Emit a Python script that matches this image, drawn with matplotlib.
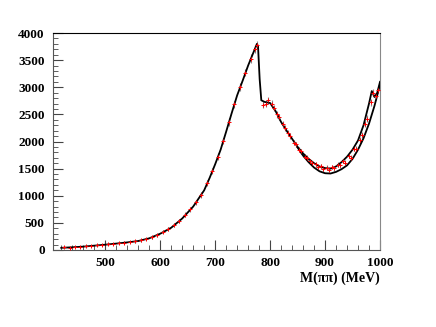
import matplotlib
matplotlib.use("Agg")
import matplotlib.pyplot as plt
from matplotlib.ticker import MultipleLocator

# fit curve (upper), MeV vs events
fit_m = [420, 440, 460, 480, 500, 520, 540, 560, 580, 600, 620, 640, 660, 680, 690, 700,
         710, 720, 730, 740, 750, 760, 770, 776, 778, 781, 784, 790, 800, 810, 820,
         830, 840, 850, 860, 870, 880, 890, 900, 910, 920, 930, 940, 950, 960, 970,
         980, 985, 990, 995, 1000]
fit_n = [40, 50, 62, 80, 98, 118, 140, 165, 215, 300, 410, 580, 800, 1100, 1330, 1580,
         1850, 2180, 2520, 2850, 3120, 3400, 3650, 3800, 3760, 3150, 2760, 2730, 2710, 2560, 2360,
         2200, 2050, 1900, 1780, 1680, 1600, 1540, 1510, 1500, 1540, 1620, 1720, 1850, 2020, 2300,
         2700, 2930, 2820, 2900, 3100]

# second model (lower branch above 850 MeV)
low_m = [850, 860, 870, 880, 890, 900, 910, 920, 930, 940, 950, 960, 970, 980, 990, 1000]
low_n = [1890, 1740, 1620, 1520, 1450, 1415, 1410, 1440, 1490, 1560, 1680, 1850, 2060, 2330, 2660, 3050]

# data points
dat_m = [425, 435, 445, 455, 465, 475, 485, 495, 505, 515, 525, 535, 545, 555, 565,
         575, 585, 595, 605, 615, 625, 635, 645, 655, 665, 675, 685, 695, 705, 715,
         725, 735, 745, 755, 765, 772, 777, 787, 793, 797, 803, 807, 813, 817, 823,
         827, 833, 837, 843, 847, 853, 857, 863, 867, 873, 877, 883, 887, 893, 897,
         903, 907, 913, 917, 923, 927, 933, 937, 943, 947, 953, 957, 963, 967, 973,
         977, 983, 987, 993, 997]
dat_n = [50, 45, 62, 58, 72, 70, 85, 95, 110, 105, 125, 138, 150, 160, 180,
         200, 235, 270, 340, 380, 460, 540, 650, 750, 880, 1010, 1230, 1450, 1720, 2010,
         2360, 2690, 3000, 3270, 3530, 3700, 3780, 2680, 2700, 2760, 2700, 2620, 2500, 2450, 2330,
         2250, 2150, 2100, 1980, 1950, 1850, 1820, 1720, 1700, 1640, 1600, 1580, 1530, 1540, 1490,
         1520, 1480, 1530, 1510, 1570, 1560, 1640, 1610, 1740, 1700, 1870, 1860, 2020, 2120, 2320,
         2420, 2720, 2900, 2830, 2950]
dat_e = [15, 15, 15, 15, 18, 18, 18, 20, 20, 20, 22, 22, 22, 25, 25,
         25, 28, 30, 35, 35, 40, 40, 45, 45, 50, 50, 55, 55, 60, 60,
         65, 65, 70, 70, 75, 75, 75, 70, 70, 65, 65, 60, 60, 60, 55,
         55, 55, 55, 50, 50, 50, 50, 50, 50, 45, 45, 45, 45, 45, 45,
         45, 45, 45, 45, 45, 45, 45, 45, 50, 50, 50, 50, 55, 55, 55,
         60, 60, 60, 60, 60]

plt.rcParams['font.family'] = ['Liberation Serif', 'DejaVu Serif']
plt.rcParams['font.weight'] = 'bold'

fig = plt.figure(figsize=(4.36, 3.27), dpi=100)
ax = fig.add_axes([0.1216, 0.2355, 0.75, 0.6635])

ax.errorbar(dat_m, dat_n, yerr=dat_e, fmt='none', ecolor='#888888', elinewidth=0.8, zorder=1)
ax.plot(low_m, low_n, color='black', lw=1.3, zorder=2)
ax.plot(fit_m, fit_n, color='black', lw=1.3, zorder=3)
ax.plot(dat_m, dat_n, ls='none', marker='+', ms=2.2, mew=0.7, color='red', zorder=4)

ax.set_xlim(405, 1000)
ax.set_ylim(0, 4000)
ax.xaxis.set_major_locator(MultipleLocator(100))
ax.xaxis.set_minor_locator(MultipleLocator(20))
ax.yaxis.set_major_locator(MultipleLocator(500))
ax.yaxis.set_minor_locator(MultipleLocator(100))
ax.tick_params(which='both', direction='in', top=False, right=False,
               labelsize=9.5, color='#444444')
ax.tick_params(which='major', length=7, width=0.8)
ax.tick_params(which='minor', length=3.5, width=0.6)
ax.tick_params(axis='y', pad=6)
ax.tick_params(axis='x', pad=5)
for lab in ax.get_xticklabels() + ax.get_yticklabels():
    lab.set_fontweight('bold')

ax.spines['right'].set_color('#888888')
ax.spines['left'].set_color('#555555')
ax.spines['bottom'].set_color('#555555')
ax.spines['top'].set_color('black')

ax.set_xlabel('M(ππ) (MeV)', fontsize=10, fontweight='bold', loc='right', labelpad=2)

fig.savefig('out.png', dpi=100)
